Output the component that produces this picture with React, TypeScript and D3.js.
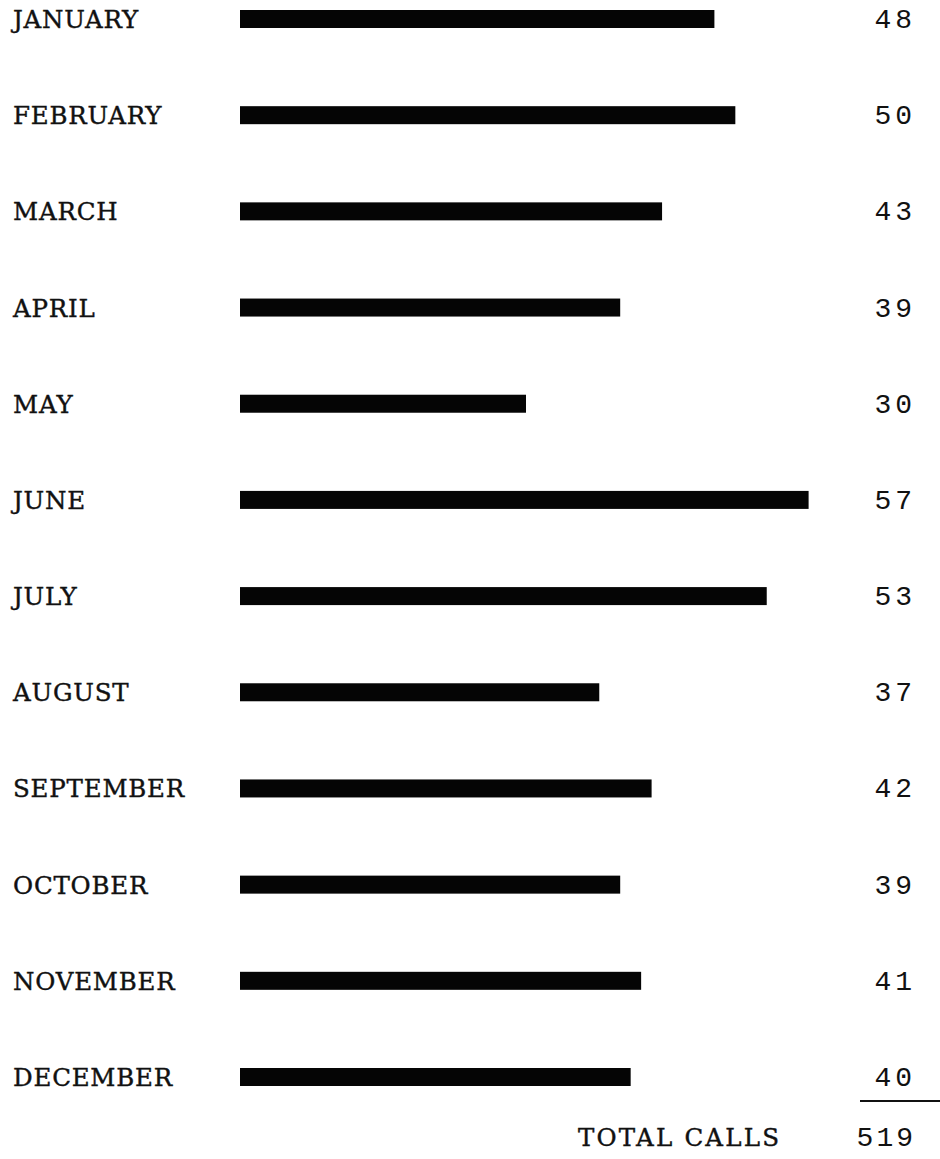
import { scaleLinear, scalePoint } from 'd3';
import { useEffect } from 'react';

const WIDTH = 940;
const HEIGHT = 1159;

const months = [
  'JANUARY',
  'FEBRUARY',
  'MARCH',
  'APRIL',
  'MAY',
  'JUNE',
  'JULY',
  'AUGUST',
  'SEPTEMBER',
  'OCTOBER',
  'NOVEMBER',
  'DECEMBER',
];
const calls = [48, 50, 43, 39, 30, 57, 53, 37, 42, 39, 41, 40];
const totalLabel = 'TOTAL CALLS';
const totalValue = 519;

const LABEL_FONT = '"DejaVu Serif", "Liberation Serif", serif';
const NUMBER_FONT = '"Liberation Mono", "Courier New", monospace';
const BAR_START = 240;
const BAR_HEIGHT = 18;

export default function App() {
  useEffect(() => {
    document.body.style.margin = '0';
  }, []);

  const x = scaleLinear().domain([0, 60]).range([212, 840]);
  const y = scalePoint<string>().domain(months).range([19, 1077]);

  return (
    <svg width={WIDTH} height={HEIGHT} viewBox={`0 0 ${WIDTH} ${HEIGHT}`} style={{ display: 'block', background: '#fff' }}>
      {months.map((month, i) => {
        const cy = y(month) ?? 0;
        return (
          <g key={month}>
            <text
              x={13}
              y={cy + 9}
              fontFamily={LABEL_FONT}
              fontSize={24.5}
              letterSpacing={0.8}
              fill="#111"
              stroke="#111"
              strokeWidth={0.4}
            >
              {month}
            </text>
            <rect
              x={BAR_START}
              y={cy - BAR_HEIGHT / 2}
              width={x(calls[i]) - BAR_START}
              height={BAR_HEIGHT}
              fill="#050505"
            />
            <text
              x={916}
              y={cy + 9}
              fontFamily={NUMBER_FONT}
              fontSize={28}
              letterSpacing={4}
              textAnchor="end"
              fill="#111"
            >
              {calls[i]}
            </text>
          </g>
        );
      })}
      <line x1={860} x2={940} y1={1101} y2={1101} stroke="#111" strokeWidth={2} />
      <text
        x={578}
        y={1146}
        fontFamily={LABEL_FONT}
        fontSize={24.5}
        letterSpacing={2.2}
        fill="#111"
        stroke="#111"
        strokeWidth={0.4}
      >
        {totalLabel}
      </text>
      <text x={916} y={1146} fontFamily={NUMBER_FONT} fontSize={28} letterSpacing={3} textAnchor="end" fill="#111">
        {totalValue}
      </text>
    </svg>
  );
}
